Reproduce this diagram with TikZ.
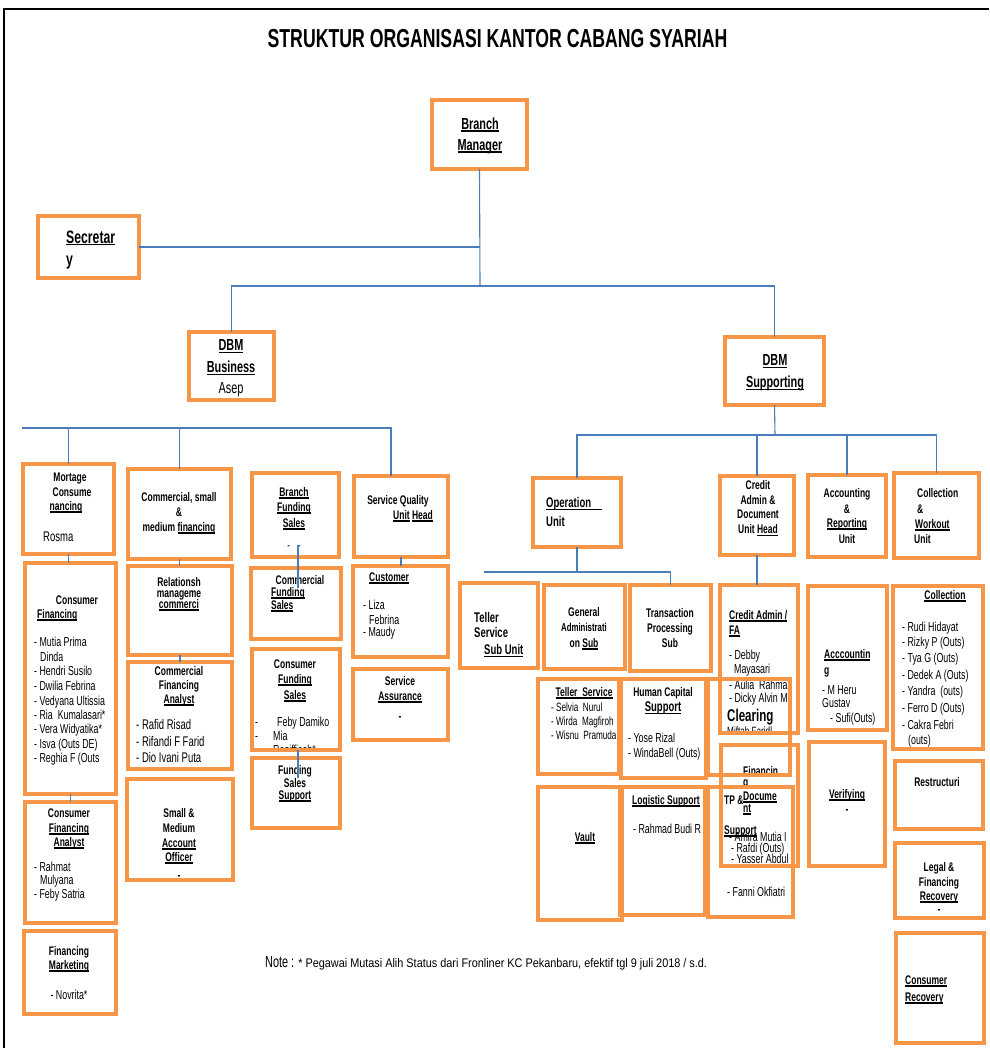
\documentclass[tikz,border=0pt]{standalone}
\usepackage{fontspec}
\setmainfont{Liberation Sans}[FakeStretch=0.68]
\definecolor{boxor}{HTML}{F79646}
\definecolor{conblue}{HTML}{4A7EBB}
\newcount\tcnt
\newcommand\ulx[1]{\setbox0\hbox{#1}\rlap{\rule[-2.2pt]{\wd0}{1.3pt}}\box0\relax}
\newcommand\putt[5]{\global\advance\tcnt by 1\relax\node[#1,anchor=#2] (t\the\tcnt) at (#3,#4) {#5};}
\newcommand\boxx[6][]{\node[box,#1,minimum width={#5-#3},minimum height={#6-#4}] (#2) at ({(#3+#5)/2},{(#4+#6)/2}) {};}
\begin{document}
\begin{tikzpicture}[x=1pt,y=-1pt,
  box/.style={draw=boxor,line width=3.2pt,inner sep=0pt,outer sep=0pt},
  thick box/.style={line width=4.5pt},
  con/.style={draw=conblue,line width=1.1pt},
  ttl/.style={font=\bfseries\fontsize{26}{30}\selectfont,inner sep=0pt,yshift=-9.3pt},
  lbx/.style={font=\bfseries\fontsize{18}{21}\selectfont,inner sep=0pt,yshift=-6.3pt},
  lbl/.style={font=\bfseries\fontsize{16}{19}\selectfont,inner sep=0pt,yshift=-5.6pt},
  lbm/.style={font=\bfseries\fontsize{14}{17}\selectfont,inner sep=0pt,yshift=-4.9pt},
  lb/.style={font=\bfseries\fontsize{12.5}{15}\selectfont,inner sep=0pt,yshift=-4.4pt},
  lbs/.style={font=\bfseries\fontsize{11.5}{14}\selectfont,inner sep=0pt,yshift=-4pt},
  nml/.style={font=\fontsize{16}{19}\selectfont,inner sep=0pt,yshift=-5.6pt},
  nmm/.style={font=\fontsize{14}{17}\selectfont,inner sep=0pt,yshift=-4.9pt},
  nm/.style={font=\fontsize{13}{15}\selectfont,inner sep=0pt,yshift=-4.5pt},
  nms/.style={font=\fontsize{12}{14}\selectfont,inner sep=0pt,yshift=-4.2pt},
  clr/.style={font=\bfseries\fontsize{17}{20}\selectfont,inner sep=0pt,yshift=-6pt}]
\useasboundingbox (0,0) rectangle (989,1048);
\fill[white] (0,0) rectangle (989,1048);
\draw[black,line width=2.5pt] (4,1048) -- (4,9) -- (989,9);

% ---------- texts ----------
\putt{ttl}{base}{497.5}{38}{STRUKTUR ORGANISASI KANTOR CABANG SYARIAH}
\putt{lbl}{base}{480}{124}{\ulx{Branch}}
\putt{lbl}{base}{480}{145}{\ulx{Manager}}
\putt{lbx}{base west}{66}{237}{\ulx{Secretar}}
\putt{lbx}{base west}{66}{259}{y}
\putt{lbl}{base}{231}{345}{\ulx{DBM}}
\putt{lbl}{base}{231}{367}{\ulx{Business}}
\putt{nml}{base}{231}{388}{Asep}
\putt{lbl}{base}{775}{360}{\ulx{DBM}}
\putt{lbl}{base}{775}{382}{\ulx{Supporting}}

% Mortgage
\putt{lb}{base}{70}{477}{Mortage}
\putt{lb}{base}{72}{492}{Consume}
\putt{lb}{base}{66}{506}{\ulx{nancing}}
\putt{nmm}{base west}{43}{537}{Rosma}
% Commercial small
\putt{lb}{base}{179}{497}{Commercial, small}
\putt{lb}{base}{179}{512}{\&}
\putt{lb}{base}{179}{527}{medium \ulx{financing}}
% Branch funding
\putt{lb}{base}{294}{492}{\ulx{Branch}}
\putt{lb}{base}{294}{507}{\ulx{Funding}}
\putt{lb}{base}{294}{523}{\ulx{Sales}}
\putt{nms}{base}{294}{545}{-\hspace{8pt}-}
% Service quality
\putt{lb}{base}{398}{500}{Service Quality}
\putt{lb}{base}{413}{515}{\ulx{Unit} \ulx{Head}}
% Consumer financing
\putt{lb}{base}{77}{600}{Consumer}
\putt{lb}{base west}{37}{614}{\ulx{Financing}}
\putt{nm}{base west}{34}{642}{- Mutia Prima}
\putt{nm}{base west}{40}{657}{Dinda}
\putt{nm}{base west}{34}{671}{- Hendri Susilo}
\putt{nm}{base west}{34}{686}{- Dwilia Febrina}
\putt{nm}{base west}{34}{701}{- Vedyana Ultissia}
\putt{nm}{base west}{34}{715}{- Ria\ \ Kumalasari*}
\putt{nm}{base west}{34}{729}{- Vera Widyatika*}
\putt{nm}{base west}{34}{744}{- Isva (Outs DE)}
\putt{nm}{base west}{34}{758}{- Reghia F (Outs}
% Relationship
\putt{lb}{base}{179}{582}{Relationsh}
\putt{lb}{base}{179}{593}{manageme}
\putt{lb}{base}{179}{604}{\ulx{commerci}}
% Commercial funding sales
\putt{lb}{base}{300}{580}{Commercial}
\putt{lb}{base west}{271}{592}{\ulx{Funding}}
\putt{lb}{base west}{271}{605}{\ulx{Sales}}
% Customer
\putt{lb}{base west}{369}{577}{\ulx{Customer}}
\putt{nm}{base west}{363}{605}{- Liza}
\putt{nm}{base west}{369}{620}{Febrina}
\putt{nm}{base west}{363}{632}{- Maudy}
% Commercial financing analyst
\putt{lb}{base}{179}{671}{Commercial}
\putt{lb}{base}{179}{685}{Financing}
\putt{lb}{base}{179}{699}{\ulx{Analyst}}
\putt{nmm}{base west}{136}{725}{- Rafid Risad}
\putt{nmm}{base west}{136}{742}{- Rifandi F Farid}
\putt{nmm}{base west}{136}{758}{- Dio Ivani Puta}
% Consumer funding sales
\putt{lb}{base}{295}{664}{Consumer}
\putt{lb}{base}{295}{679}{\ulx{Funding}}
\putt{lb}{base}{295}{695}{\ulx{Sales}}
\putt{nm}{base west}{255}{722}{-}
\putt{nm}{base west}{277}{722}{Feby Damiko}
\putt{nm}{base west}{255}{736}{-}
\putt{nm}{base west}{273}{736}{Mia}
\begin{scope}
\clip (252,700) rectangle (340,748);
\putt{nm}{base west}{273}{750}{Ronifficah*}
\end{scope}
% Service assurance
\putt{lb}{base}{400}{681}{Service}
\putt{lb}{base}{400}{696}{\ulx{Assurance}}
\putt{lb}{base}{400}{716}{-}
% Funding sales support
\putt{lb}{base}{295}{770}{Funding}
\putt{lb}{base}{295}{783}{Sales}
\putt{lb}{base}{295}{795}{\ulx{Support}}
% Consumer financing analyst
\putt{lb}{base}{69}{813}{Consumer}
\putt{lb}{base}{69}{828}{\ulx{Financing}}
\putt{lb}{base}{69}{842}{\ulx{Analyst}}
\putt{nm}{base west}{34}{867}{- Rahmat}
\putt{nm}{base west}{40}{880}{Mulyana}
\putt{nm}{base west}{34}{894}{- Feby Satria}
% Small medium account officer
\putt{lb}{base}{179}{813}{Small \&}
\putt{lb}{base}{179}{828}{Medium}
\putt{lb}{base}{179}{843}{\ulx{Account}}
\putt{lb}{base}{179}{857}{\ulx{Officer}}
\putt{lb}{base}{179}{875}{-}
% Financing marketing
\putt{lb}{base}{69}{951}{Financing}
\putt{lb}{base}{69}{965}{\ulx{Marketing}}
\putt{nm}{base}{69}{995}{- Novrita*}
% Note
\putt{nml}{base west}{265}{962}{Note : \scalebox{1.28}[1]{\fontsize{12.5}{15}\selectfont * Pegawai Mutasi Alih Status dari Fronliner KC Pekanbaru, efektif tgl 9 juli 2018 / s.d.}}

% Right side
\putt{lbm}{base west}{546}{503}{\ulx{Operation\hspace{11pt}}}
\putt{lbm}{base west}{546}{522}{Unit}
\putt{lb}{base}{758}{485}{Credit}
\putt{lb}{base}{758}{500}{Admin \&}
\putt{lb}{base}{758}{514.5}{Document}
\putt{lb}{base}{758}{529.5}{Unit \ulx{Head}}
\putt{lb}{base}{847}{493}{Accounting}
\putt{lb}{base}{847}{509}{\&}
\putt{lb}{base}{847}{523}{\ulx{Reporting}}
\putt{lb}{base}{847}{539}{Unit}
\putt{lb}{base west}{917}{493}{Collection}
\putt{lb}{base west}{917}{509}{\&}
\putt{lb}{base west}{915}{524}{\ulx{Workout}}
\putt{lb}{base west}{914}{539}{Unit}
% Teller service sub unit
\putt{lbm}{base west}{474}{618}{Teller}
\putt{lbm}{base west}{474}{633}{Service}
\putt{lbm}{base west}{484}{650}{\ulx{Sub Unit}}
% General admin
\putt{lb}{base}{584}{612}{General}
\putt{lbs}{base}{584}{627}{Administrati}
\putt{lb}{base}{584}{643}{on \ulx{Sub}}
% Transaction
\putt{lb}{base}{670}{613}{Transaction}
\putt{lb}{base}{670}{628}{Processing}
\putt{lb}{base}{670}{643}{Sub}
% Credit admin / FA
\putt{lb}{base west}{729}{615}{\ulx{Credit Admin /}}
\putt{lb}{base west}{729}{630}{\ulx{FA}}
\putt{nm}{base west}{729}{655}{- Debby}
\putt{nm}{base west}{734}{669}{Mayasari}
\begin{scope}
\clip (721,586) rectangle (797,740);
\putt{nm}{base west}{729}{685}{- Aulia\ \ Rahman}
\putt{nm}{base west}{729}{698}{- Dicky Alvin M}
\end{scope}
\putt{clr}{base west}{727}{715}{Clearing}
\putt{nms}{base west}{727}{731}{Miftah Faridl}
% Teller service
\putt{lb}{base}{584}{692}{\ulx{Teller\ \ Service}}
\putt{nms}{base west}{551}{707}{- Selvia\ \ Nurul}
\putt{nms}{base west}{551}{721}{- Wirda\ \ Magfiroh}
\putt{nms}{base west}{551}{735}{- Wisnu\ \ Pramuda}
% Human capital
\putt{lb}{base}{663}{692}{Human Capital}
\putt{lbm}{base}{663}{707}{\ulx{Support}}
\putt{nm}{base west}{628}{738}{- Yose Rizal}
\putt{nm}{base west}{628}{753}{- WindaBell (Outs)}
% Financing document
\putt{lb}{base west}{743}{771}{Financin}
\putt{lb}{base west}{743}{782}{g}
\putt{lb}{base west}{743}{796}{\ulx{Docume}}
\putt{lb}{base west}{743}{808}{\ulx{nt}}
\begin{scope}
\clip (700,820) rectangle (797,870);
\putt{nm}{base west}{729}{837}{- Amira Mutia I}
\end{scope}
\putt{nm}{base west}{731}{848}{- Rafdi (Outs)}
\putt{nm}{base west}{731}{859}{- Yasser Abdul}
% Vault, logistic, TP
\putt{lb}{base}{585}{837}{\ulx{Vault}}
\putt{lb}{base}{666}{800}{\ulx{Logistic Support}}
\putt{nm}{base west}{633}{829}{- Rahmad Budi R}
\putt{lb}{base west}{724}{800}{TP \&}
\putt{lb}{base west}{724}{830}{\ulx{Support}}
\putt{nm}{base west}{727}{892}{- Fanni Okfiatri}
% Accounting
\putt{lb}{base west}{824}{654}{\ulx{Acccountin}}
\putt{lb}{base west}{824}{670}{g}
\putt{nm}{base west}{822}{690}{- M Heru}
\putt{nm}{base west}{822}{703}{Gustav}
\putt{nm}{base west}{830}{718}{- Sufi(Outs)}
% Collection
\putt{lb}{base}{945}{595}{\ulx{Collection}}
\putt{nm}{base west}{902}{627}{- Rudi Hidayat}
\putt{nm}{base west}{902}{642}{- Rizky P (Outs)}
\putt{nm}{base west}{902}{658}{- Tya G (Outs)}
\putt{nm}{base west}{902}{675}{- Dedek A (Outs)}
\putt{nm}{base west}{902}{691}{- Yandra\ \ (outs)}
\putt{nm}{base west}{902}{708}{- Ferro D (Outs)}
\putt{nm}{base west}{902}{725}{- Cakra Febri}
\putt{nm}{base west}{908}{740}{(outs)}
% Verifying etc
\putt{lb}{base}{847}{794}{\ulx{Verifying}}
\putt{lb}{base}{847}{809}{-}
\putt{lb}{base}{937}{782}{Restructuri}
\putt{lb}{base}{939}{867}{Legal \&}
\putt{lb}{base}{939}{882}{Financing}
\putt{lb}{base}{939}{896}{\ulx{Recovery}}
\putt{lb}{base}{939}{909}{-}
\putt{lb}{base west}{905}{980}{\ulx{Consumer}}
\putt{lb}{base west}{905}{997}{\ulx{Recovery}}

% ---------- boxes ----------
\boxx{bm}{432}{100}{527}{169}
\boxx{sec}{38}{216}{139}{278}
\boxx{dbmb}{189}{332}{274}{400}
\boxx{dbms}{725}{337}{824}{405}
\boxx{mort}{23}{464}{114}{554}
\boxx{comm}{128}{469}{231}{559}
\boxx{bfs}{252}{473}{339}{557}
\boxx{sq}{354}{476}{448}{557}
\boxx{cf}{25}{563}{116}{794}
\boxx{rel}{128}{566}{232}{655}
\boxx{cfs}{251}{568}{341}{639}
\boxx{cust}{353}{566}{448}{657}
\boxx{cfa}{128}{662}{232}{769}
\boxx{cons}{252}{649}{340}{750}
\boxx{sa}{353}{669}{448}{740}
\boxx{fss}{252}{758}{340}{828}
\boxx{cfan}{25}{802}{116}{923}
\boxx{smao}{127}{779}{233}{880}
\boxx{fm}{24}{931}{116}{1014}
\boxx{op}{533}{478}{621}{547}
\boxx{cad}{720}{476}{794}{555}
\boxx{acc}{808}{475}{886}{557}
\boxx{col}{894}{473}{979}{558}
\boxx{tss}{460}{583}{538}{668}
\boxx{ga}{544}{585}{625}{669}
\boxx{tp}{630}{585}{711}{671}
\boxx{cafa}{720}{585}{798}{733}
\boxx{acct}{808}{586}{887}{730}
\boxx{coll}{893}{586}{983}{749}
\boxx{ts}{538}{679}{619}{774}
\boxx{hc}{621}{679}{706}{778}
\boxx{clrb}{708}{679}{790}{775}
\boxx{fdoc}{721}{745}{798}{866}
\boxx[thick box]{vault}{538}{787}{622}{920}
\boxx[thick box]{logi}{620}{787}{705}{915}
\boxx[thick box]{tps}{708}{787}{793}{917}
\boxx{ver}{809}{742}{885}{866}
\boxx{res}{895}{761}{983}{829}
\boxx{legal}{895}{843}{984}{918}
\boxx{crec}{896}{933}{984}{1043}

% ---------- connectors ----------
\coordinate (bus1) at (480,286);
\coordinate (lbus0) at (22,428);
\coordinate (lbus1) at (391,428);
\coordinate (rbus) at (775,435);
\coordinate (obus0) at (484,572);
\coordinate (f1) at (298,545);
\coordinate (f2) at (298,588);
\coordinate (f3) at (298,750);
\coordinate (f4) at (298,778);
\draw[con] (bm.south) -- (bus1);
\draw[con] (sec.east) -- (sec.east -| bm.south);
\draw[con] (dbmb.north) |- (bus1) -| (dbms.north);
\draw[con] (lbus0) -- (lbus1) -- (lbus1 |- sq.north);
\draw[con] (mort.north) -- (mort.north |- lbus0);
\draw[con] (comm.north) -- (comm.north |- lbus0);
\draw[con] (mort.south) -- (mort.south |- cf.north);
\draw[con] (comm.south) -- (comm.south |- rel.north);
\draw[con] (f1) -- (f2);
\draw[con] (sq.south) -- (sq.south |- cust.north);
\draw[con] (rel.south) -- (rel.south |- cfa.north);
\draw[con] (cf.south) -- (cf.south |- cfan.north);
\draw[con] (f3) -- (f4);
\draw[con] (dbms.south) -- (rbus);
\draw[con] (op.north) -- (op.north |- rbus) -- (col.north |- rbus) -- (col.north);
\draw[con] (cad.north) -- (cad.north |- rbus);
\draw[con] (acc.north) -- (acc.north |- rbus);
\draw[con] (op.south) -- (op.south |- obus0);
\draw[con] (obus0) -- (tp.north |- obus0) -- (tp.north);
\draw[con] (cad.south) -- (cad.south |- cafa.north);
\end{tikzpicture}
\end{document}
